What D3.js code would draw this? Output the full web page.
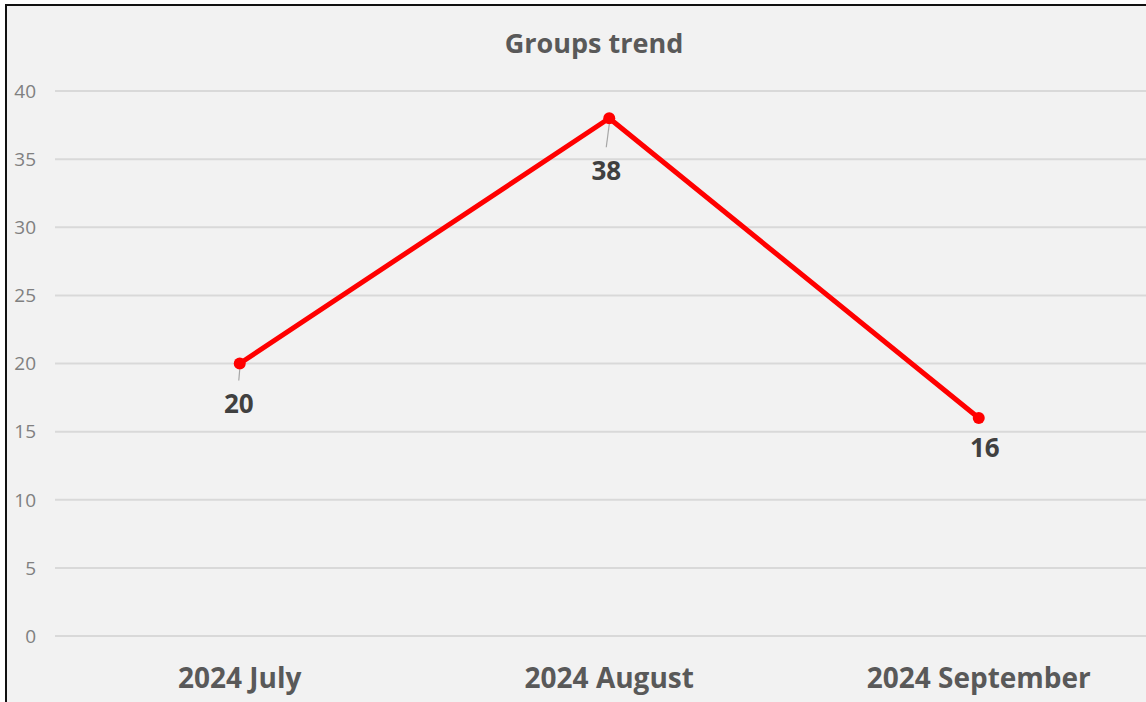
<!DOCTYPE html>
<html>
<head>
<meta charset="utf-8">
<script src="https://cdn.jsdelivr.net/npm/d3@7"></script>
<style>
  body { margin: 0; background: #ffffff; }
  svg { display: block; }
</style>
</head>
<body>
<div class="vis-linechart"></div>
<script>
// chart data
const months = ["2024 July", "2024 August", "2024 September"];
const groups = [20, 38, 16];
const yTicks = [0, 5, 10, 15, 20, 25, 30, 35, 40];
const chartTitle = "Groups trend";

const draw = () => {
    const width = 1146, height = 702;
    // label placement relative to each point (layout only)
    const labelShift = [[-1, 40], [-3, 52], [6, 30]];

    d3.select('.vis-linechart > *').remove();

    const svg = d3.select(".vis-linechart")
        .append("svg")
        .attr("width", width)
        .attr("height", height);

    // chart frame
    svg.append("rect")
        .attr("x", 6).attr("y", 5)
        .attr("width", width + 20).attr("height", height + 20)
        .attr("fill", "#f2f2f2")
        .attr("stroke", "#111")
        .attr("stroke-width", 2);

    const x = d3.scaleBand()
        .domain(months)
        .range([55, 1163.5]);

    const y = d3.scaleLinear()
        .domain([0, 40])
        .range([636, 91]);

    // gridlines
    svg.append("g")
        .selectAll("line")
        .data(yTicks)
        .join("line")
        .attr("x1", 55).attr("x2", width)
        .attr("y1", d => y(d)).attr("y2", d => y(d))
        .attr("stroke", "#d9d9d9")
        .attr("stroke-width", 2);

    // y tick labels
    svg.append("g")
        .selectAll("text")
        .data(yTicks)
        .join("text")
        .attr("x", 36)
        .attr("y", d => y(d))
        .attr("dy", "0.36em")
        .attr("text-anchor", "end")
        .attr("font-family", "Open Sans")
        .attr("font-size", 19)
        .attr("fill", "#808080")
        .text(d => d);

    // x category labels
    svg.append("g")
        .selectAll("text")
        .data(months)
        .join("text")
        .attr("x", d => x(d) + x.bandwidth() / 2)
        .attr("y", 688)
        .attr("text-anchor", "middle")
        .attr("font-family", "Open Sans")
        .attr("font-weight", "bold")
        .attr("font-size", 28)
        .attr("fill", "#595959")
        .text(d => d);

    // title
    svg.append("text")
        .attr("x", 594)
        .attr("y", 53)
        .attr("text-anchor", "middle")
        .attr("font-family", "Open Sans")
        .attr("font-weight", "bold")
        .attr("font-size", 27)
        .attr("fill", "#595959")
        .text(chartTitle);

    const pts = months.map((m, i) => ({ m: m, v: groups[i], i: i }));

    // leader lines
    svg.append("g")
        .selectAll("line")
        .data(pts.filter(d => d.i < 2))
        .join("line")
        .attr("x1", d => x(d.m) + x.bandwidth() / 2)
        .attr("y1", d => y(d.v) + 6)
        .attr("x2", d => x(d.m) + x.bandwidth() / 2 + labelShift[d.i][0])
        .attr("y2", d => y(d.v) + labelShift[d.i][1] - 23)
        .attr("stroke", "#a6a6a6")
        .attr("stroke-width", 1.2);

    // line
    const line = d3.line()
        .x(d => x(d.m) + x.bandwidth() / 2)
        .y(d => y(d.v));

    svg.append("path")
        .datum(pts)
        .attr("fill", "none")
        .attr("stroke", "#ff0000")
        .attr("stroke-width", 5)
        .attr("stroke-linejoin", "round")
        .attr("d", line);

    svg.append("g")
        .selectAll("circle")
        .data(pts)
        .join("circle")
        .attr("cx", d => x(d.m) + x.bandwidth() / 2)
        .attr("cy", d => y(d.v))
        .attr("r", 6)
        .attr("fill", "#ff0000");

    // data labels
    svg.append("g")
        .selectAll("text")
        .data(pts)
        .join("text")
        .attr("x", d => x(d.m) + x.bandwidth() / 2 + labelShift[d.i][0])
        .attr("y", d => y(d.v) + labelShift[d.i][1])
        .attr("dy", "0.36em")
        .attr("text-anchor", "middle")
        .attr("font-family", "Open Sans")
        .attr("font-weight", "bold")
        .attr("font-size", 26)
        .attr("fill", "#404040")
        .text(d => d.v);
};

draw();
</script>
</body>
</html>
